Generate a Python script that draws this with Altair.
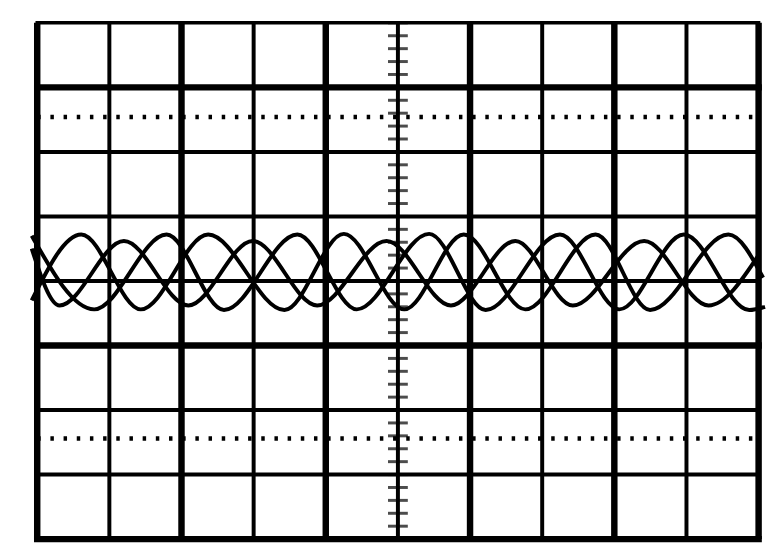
import altair as alt
import pandas as pd

# Graticule (in divisions)
v_major = [0, 2, 4, 6, 8, 10]
v_minor = [1, 3, 5, 7, 9]
h_major = [3, -1, -4]
h_minor = [2, 1, 0, -2, -3]
h_top = [4]
dotted_rows = [2.54, -2.44]
center_ticks = [round(-4 + 0.2 * i, 1) for i in range(41)]

trace_a_x = [-0.076, 0.611, 1.435, 2.370, 3.427, 4.251, 5.089, 5.913, 6.765, 7.740, 8.496, 9.581, 10.062]
trace_a_y = [-0.30, 0.72, -0.44, 0.72, -0.45, 0.73, -0.44, 0.72, -0.44, 0.72, -0.45, 0.72, 0.05]
trace_b_x = [-0.076, 0.790, 1.793, 2.589, 3.606, 4.430, 5.433, 6.216, 7.246, 8.070, 8.963, 9.870, 10.089]
trace_b_y = [0.70, -0.44, 0.72, -0.45, 0.72, -0.44, 0.73, -0.45, 0.72, -0.44, 0.72, -0.45, -0.40]
trace_c_x = [-0.076, 0.310, 1.202, 2.095, 2.988, 3.881, 4.842, 5.735, 6.628, 7.425, 8.414, 9.306, 10.000]
trace_c_y = [0.50, -0.38, 0.62, -0.38, 0.62, -0.38, 0.62, -0.38, 0.62, -0.38, 0.62, -0.38, 0.40]

Y_LO, Y_HI = min(h_major + h_minor + h_top), max(h_major + h_minor + h_top)
X_LO, X_HI = min(v_major), max(v_major)

xs = alt.Scale(domain=[-0.405, 10.172], nice=False, zero=False)
ys = alt.Scale(domain=[-4.100, 4.192], nice=False, zero=False)


def vlines(vals, w):
    df = pd.DataFrame({"x": vals, "y0": Y_LO, "y1": Y_HI})
    return alt.Chart(df).mark_rule(color="black", strokeWidth=w).encode(
        x=alt.X("x:Q", scale=xs, axis=None),
        y=alt.Y("y0:Q", scale=ys, axis=None),
        y2="y1:Q",
    )


def hlines(vals, w, dash=None):
    df = pd.DataFrame({"y": vals, "x0": X_LO, "x1": X_HI})
    kw = dict(color="black", strokeWidth=w, strokeCap="square")
    if dash is not None:
        kw = dict(color="black", strokeWidth=w, strokeDash=dash)
    return alt.Chart(df).mark_rule(**kw).encode(
        y=alt.Y("y:Q", scale=ys, axis=None),
        x=alt.X("x0:Q", scale=xs, axis=None),
        x2="x1:Q",
    )


ticks = alt.Chart(pd.DataFrame({"y": center_ticks, "x": 5})).mark_tick(
    orient="horizontal", color="black", size=20, thickness=3
).encode(
    x=alt.X("x:Q", scale=xs, axis=None),
    y=alt.Y("y:Q", scale=ys, axis=None),
)

trace_df = pd.concat([
    pd.DataFrame({"x": trace_a_x, "y": trace_a_y, "trace": "A"}),
    pd.DataFrame({"x": trace_b_x, "y": trace_b_y, "trace": "B"}),
    pd.DataFrame({"x": trace_c_x, "y": trace_c_y, "trace": "C"}),
])
trace = alt.Chart(trace_df).mark_line(
    color="black", strokeWidth=4, interpolate="monotone", clip=False
).encode(
    x=alt.X("x:Q", scale=xs, axis=None),
    y=alt.Y("y:Q", scale=ys, axis=None),
    detail="trace:N",
    order="x:Q",
)

chart = alt.layer(
    hlines(dotted_rows, 4.5, dash=[3.5, 9.8]),
    vlines(v_minor, 4),
    vlines(v_major, 6.5),
    hlines(h_minor, 4),
    hlines(h_major, 6.5),
    hlines(h_top, 3.5),
    ticks,
    trace,
).properties(
    width=770, height=540, padding=0, background="white"
).configure_view(stroke=None)

chart.save("out.html", embed_options={"renderer": "svg", "actions": False})
